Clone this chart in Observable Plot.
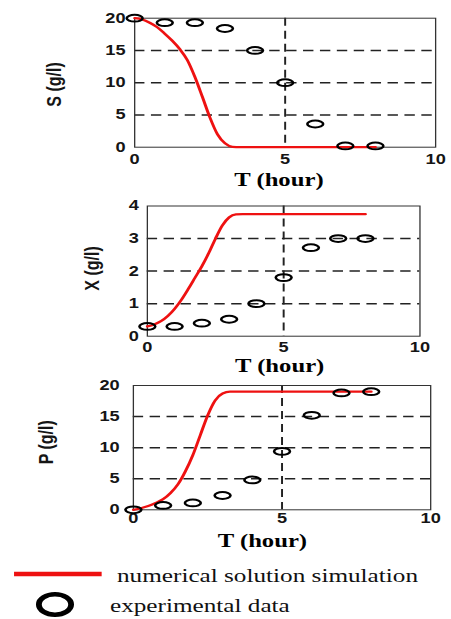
<!DOCTYPE html>
<html>
<head>
<meta charset="utf-8">
<script src="https://cdn.jsdelivr.net/npm/d3@7"></script>
<script src="https://cdn.jsdelivr.net/npm/@observablehq/plot@0.6"></script>
<style>
  html, body { margin: 0; padding: 0; background: #fff; overflow: hidden; }
  #fig { position: relative; width: 347px; height: 619px; transform: scaleX(1.3); transform-origin: 0 0; }
  #fig > svg, #fig > div { position: absolute; left: 0; }
</style>
</head>
<body>
<div id="fig"></div>
<script>
// ---- data ----
const expT  = [0, 1, 2, 3, 4, 5, 6, 7, 8];
const S_exp = [20, 19.3, 19.3, 18.4, 15, 10, 3.6, 0.2, 0.2];
const X_exp = [0.3, 0.3, 0.4, 0.52, 1.0, 1.8, 2.72, 3.0, 3.0];
const P_exp = [0, 0.7, 1.1, 2.3, 4.8, 9.4, 15.2, 18.8, 19.0];

const simT  = [0, 0.25, 0.5, 0.75, 1, 1.25, 1.5, 1.75, 2, 2.25, 2.5, 2.75, 3, 3.25, 3.5, 4, 5, 6, 7, 8];
const S_sim = [20, 19.8, 19.3, 18.6, 17.6, 16.5, 15.2, 13.5, 10.9, 7.8, 4.6, 2.0, 0.6, 0.05, 0, 0, 0, 0, 0, 0];
const X_sim = [0.3, 0.36, 0.46, 0.62, 0.84, 1.12, 1.45, 1.8, 2.15, 2.55, 3.0, 3.4, 3.65, 3.74, 3.75, 3.75, 3.75, 3.75, 3.75, 3.75];
const P_sim = [0, 0.25, 0.6, 1.1, 1.7, 2.7, 4.1, 6.2, 8.8, 12.0, 15.2, 17.6, 18.7, 19.0, 19.0, 19.0, 19.0, 19.0, 19.0, 19.0];

const xTicks = [0, 5, 10];
const S_ticks = [0, 5, 10, 15, 20];
const X_ticks = [0, 1, 2, 3, 4];
const P_ticks = [0, 5, 10, 15, 20];
const S_grid = [5, 10, 15];
const X_grid = [1, 2, 3];
const P_grid = [5, 10, 15];
const xGrid = [5];

const xLabel = "T (hour)";
const legendLabels = ["numerical solution simulation", "experimental data"];

// ---- helpers ----
const W = 347;
const RED = "#ee1111";
const sans = "'Liberation Sans', Arial, Helvetica, sans-serif";
const serif = "'Liberation Serif', 'Times New Roman', serif";

function ellipseSymbol(rx, ry) {
  const k = 0.5523;
  return {
    draw(ctx) {
      ctx.moveTo(rx, 0);
      ctx.bezierCurveTo(rx, ry * k, rx * k, ry, 0, ry);
      ctx.bezierCurveTo(-rx * k, ry, -rx, ry * k, -rx, 0);
      ctx.bezierCurveTo(-rx, -ry * k, -rx * k, -ry, 0, -ry);
      ctx.bezierCurveTo(rx * k, -ry, rx, -ry * k, rx, 0);
      ctx.closePath();
    }
  };
}
const dotSym = ellipseSymbol(6.1, 3.4);

const zip = (t, v) => t.map((d, i) => ({t: d, v: v[i]}));
const fmt = d3.format("d");

function panel(o) {
  const svg = Plot.plot({
    width: W,
    height: o.height,
    marginTop: o.mt,
    marginBottom: o.mb,
    marginLeft: o.left,
    marginRight: W - o.right,
    x: {domain: [0, 10], label: null},
    y: {domain: o.yDomain, label: null},
    style: {background: "transparent", fontFamily: sans, fontSize: "14px", fontWeight: "bold", color: "#151515", overflow: "visible"},
    marks: [
      Plot.ruleY(o.grid, {stroke: "#222", strokeWidth: 1.5, strokeDasharray: "8,5"}),
      Plot.ruleX(xGrid, {stroke: "#222", strokeWidth: 1.5, strokeDasharray: "8,5"}),
      Plot.frame({stroke: "#333", strokeWidth: 1}),
      Plot.axisX({ticks: xTicks, tickFormat: fmt, tickSize: 0, tickPadding: o.padX, label: null}),
      Plot.axisY({ticks: o.yTicks, tickFormat: fmt, tickSize: 0, tickPadding: o.padY, label: null}),
      Plot.line(zip(simT, o.sim), {x: "t", y: "v", stroke: RED, strokeWidth: 2.3, curve: "monotone-x"}),
      Plot.dot(zip(expT, o.exp), {x: "t", y: "v", symbol: dotSym, stroke: "#000", fill: "none", strokeWidth: 2}),
      Plot.text([o.ylabel], {frameAnchor: "left", textAnchor: "middle", lineAnchor: "middle", rotate: -90, dx: o.ylDx, dy: o.ylDy, fontFamily: sans, fontWeight: "bold", fontSize: 16, fill: "#151515"}),
      Plot.text([xLabel], {frameAnchor: "bottom", textAnchor: "middle", lineAnchor: "middle", dx: o.xlDx, dy: o.xlDy, fontFamily: serif, fontWeight: "bold", fontSize: 19, fill: "#000"})
    ]
  });
  svg.style.top = o.top + "px";
  return svg;
}

const fig = document.getElementById("fig");

fig.appendChild(panel({
  top: 0, height: 195, mt: 17.7, mb: 195 - 146.7, left: 103.1, right: 334.6,
  yDomain: [0, 20], yTicks: S_ticks, grid: S_grid, exp: S_exp, sim: S_sim,
  ylabel: "S (g/l)", padX: 7, padY: 7, ylDx: -61.6, ylDy: 1.8, xlDx: -4.8, xlDy: 32.5
}));

fig.appendChild(panel({
  top: 190, height: 185, mt: 15.5, mb: 375 - 335.7, left: 112.85, right: 322.55,
  yDomain: [0, 4], yTicks: X_ticks, grid: X_grid, exp: X_exp, sim: X_sim,
  ylabel: "X (g/l)", padX: 5.5, padY: 6.5, ylDx: -42.3, ylDy: -2.6, xlDx: -3.1, xlDy: 29.5
}));

fig.appendChild(panel({
  top: 375, height: 175, mt: 10, mb: 550 - 509.3, left: 102.1, right: 330.8,
  yDomain: [0, 20], yTicks: P_ticks, grid: P_grid, exp: P_exp, sim: P_sim,
  ylabel: "P (g/l)", padX: 3.5, padY: 10.5, ylDx: -66.9, ylDy: -5.4, xlDx: -15.1, xlDy: 31
}));

// ---- legend (below the charts) ----
const leg = document.createElementNS("http://www.w3.org/2000/svg", "svg");
leg.setAttribute("width", W);
leg.setAttribute("height", 69);
leg.style.position = "absolute";
leg.style.top = "550px";
leg.style.left = "0px";
leg.innerHTML = `
  <line x1="10.8" x2="78.2" y1="24" y2="24" stroke="${RED}" stroke-width="4.3"/>
  <ellipse cx="42.3" cy="54.5" rx="12.4" ry="10.25" fill="none" stroke="#000" stroke-width="4.5"/>
  <text x="90" y="32.5" font-family="${serif}" font-size="19.4" fill="#111">${legendLabels[0]}</text>
  <text x="84.6" y="62.5" font-family="${serif}" font-size="19.4" fill="#111">${legendLabels[1]}</text>
`;
fig.appendChild(leg);
</script>
</body>
</html>
